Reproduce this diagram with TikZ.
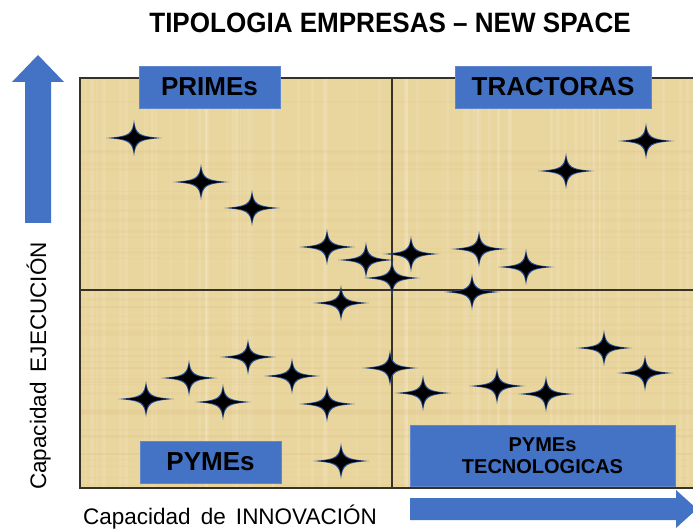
\documentclass[tikz,border=0pt]{standalone}
\usepackage{fontspec}
\setmainfont{Liberation Sans}
\usepackage{graphicx}
\definecolor{paper}{RGB}{233,213,158}
\definecolor{boxblue}{RGB}{68,114,196}
\definecolor{sparkblue}{RGB}{35,75,150}
\definecolor{frame}{RGB}{55,50,40}
\tikzset{
  labbox/.style={fill=boxblue, draw=boxblue!85!white, line width=0.6pt, inner sep=0pt, font=\bfseries\fontsize{26}{28}\selectfont, text=black},
  spark/.pic={
    \fill[sparkblue] (-28,0) .. controls (-4,1.9) and (-1.9,4) .. (0,18)
       .. controls (1.9,4) and (4,1.9) .. (28,0)
       .. controls (4,-1.9) and (1.9,-4) .. (0,-18)
       .. controls (-1.9,-4) and (-4,-1.9) .. (-28,0) -- cycle;
    \fill[black] (-23,0) .. controls (-3.5,1.4) and (-1.4,3.5) .. (0,14.5)
       .. controls (1.4,3.5) and (3.5,1.4) .. (23,0)
       .. controls (3.5,-1.4) and (1.4,-3.5) .. (0,-14.5)
       .. controls (-1.4,-3.5) and (-3.5,-1.4) .. (-23,0) -- cycle;
  }
}
\begin{document}
\begin{tikzpicture}[x=1pt,y=-1pt]
\useasboundingbox (0,0) rectangle (693,529);
\clip (0,0) rectangle (693,529);
\fill[white] (0,0) rectangle (693,529);
% papyrus panel
\fill[paper] (80,78) rectangle (700,488);
\pgfmathsetseed{17}
\foreach \i in {1,...,70}{
  \pgfmathsetmacro\xx{80+613*rnd}
  \pgfmathsetmacro\ww{1+3*rnd}
  \fill[white, opacity=0.10] (\xx,78) rectangle ++(\ww,410);
}
\foreach \i in {1,...,50}{
  \pgfmathsetmacro\yy{78+410*rnd}
  \pgfmathsetmacro\hh{1+2*rnd}
  \fill[brown, opacity=0.035] (80,\yy) rectangle ++(620,\hh);
}
\draw[frame, line width=1.2pt] (700,78) -- (80,78) -- (80,488) -- (700,488);
\draw[frame, line width=1.2pt] (392,78) -- (392,488);
\draw[frame, line width=1.2pt] (80,290) -- (700,290);
% title
\node[anchor=base, font=\bfseries\fontsize{28}{30}\selectfont] (title) at (390,33) {\scalebox{0.93}[1]{TIPOLOGIA EMPRESAS – NEW SPACE}};
% category boxes
\node[labbox, minimum width=141pt, minimum height=42pt] (primes) at (209.5,87) {PRIMEs};
\node[labbox, minimum width=196pt, minimum height=42pt] (tractoras) at (553,87) {TRACTORAS};
\node[labbox, minimum width=141pt, minimum height=42pt] (pymes) at (210.5,462) {PYMEs};
\node[labbox, minimum width=265pt, minimum height=61pt, align=center, font=\bfseries\fontsize{20}{22}\selectfont] (pymestec) at (542.5,456) {PYMEs\\TECNOLOGICAS};
% stars
\foreach \px/\py [count=\k] in {134/138, 201/182, 252/208, 327/247, 366/260, 411/254, 392/278, 479/249, 526/267, 472/292, 341/303, 566/171, 646/141, 248/357, 189/378, 146/399, 223/402, 292/376, 327/404, 341/461, 390/368, 423/393, 497/386, 546/394, 604/348, 645/373}{
  \pic (star\k) at (\px,\py) {spark};
}
% axis arrows
\fill[boxblue] (25,223) -- (25,82) -- (12,82) -- (38,55) -- (64,82) -- (51,82) -- (51,223) -- cycle;
\fill[boxblue] (410,498) -- (676,498) -- (676,490) -- (697,509) -- (676,528) -- (676,520) -- (410,520) -- cycle;
% axis labels
\node[anchor=base west, inner sep=0pt, font=\fontsize{22.5}{24}\selectfont] (xlabel) at (83,524) {Capacidad\hspace{0.45em}de\hspace{0.45em}INNOVACIÓN};
\node[anchor=base west, inner sep=0pt, rotate=90, font=\fontsize{22.5}{24}\selectfont] (ylabel) at (46,490) {Capacidad\hspace{0.45em}EJECUCIÓN};
\end{tikzpicture}
\end{document}
